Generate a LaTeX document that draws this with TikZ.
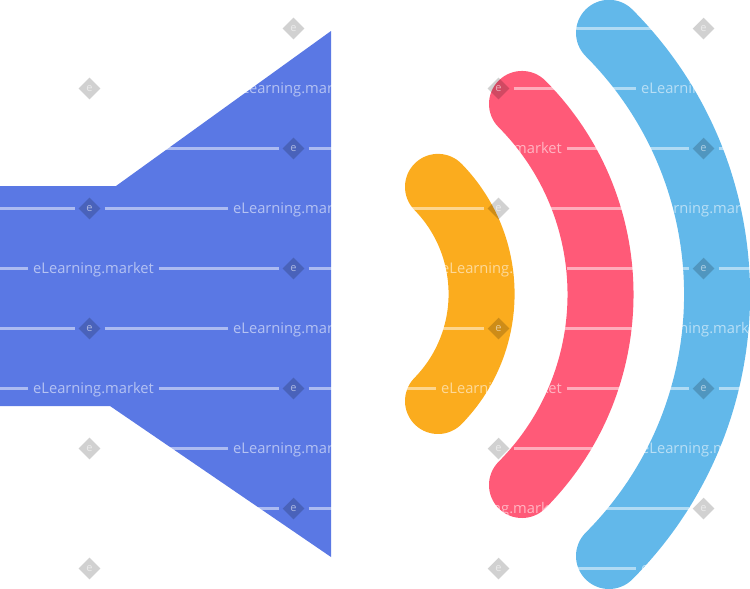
\documentclass[tikz,border=0pt]{standalone}
\usepackage{fontspec}
\setmainfont{Open Sans}
\usetikzlibrary{shapes.geometric,positioning}

\begin{document}
\begin{tikzpicture}[
    x=1pt, y=-1pt,
    wave/.style={line width=66pt, line cap=round},
    stamp/.style={diamond, fill=black, fill opacity=0.18, text=white, text opacity=0.55, minimum size=24pt, inner sep=0pt, outer sep=3pt, font=\fontsize{11}{11}\selectfont},
    wmtext/.style={text=white, text opacity=0.55, inner sep=0pt, outer sep=5pt, yshift=-1pt, font=\fontsize{14.7}{14.7}\selectfont},
    wmline/.style={draw=white, draw opacity=0.5, line width=2.2pt}
]
    \definecolor{hornblue}{HTML}{5A78E4}
    \definecolor{waveyellow}{HTML}{FBAC1E}
    \definecolor{wavered}{HTML}{FF5A78}
    \definecolor{wavesky}{HTML}{62B8EA}
    \useasboundingbox (0,0) rectangle (750,589);

    % Speaker
    \fill[hornblue] (0,186) -- (116,186) -- (331,31) -- (331,557) -- (110,406) -- (0,406) -- cycle;

    % Sound waves
    \draw[wave, waveyellow] (438,401) arc[start angle=-44.3, end angle=44.3, radius=153.3pt];
    \draw[wave, wavered] (522,485) arc[start angle=-44.8, end angle=44.8, radius=270.4pt];
    \draw[wave, wavesky] (609,556) arc[start angle=-44.9, end angle=44.9, radius=370.6pt];

    \begin{scope}[xshift=0.5pt, yshift=-0.5pt]
    % Watermark rows with stamps at 293 and 703
    \foreach \rowy in {28,148,268,388,508} {
        \coordinate (l\rowy) at (-1,\rowy);
        \coordinate (r\rowy) at (749.5,\rowy);
        \node[wmtext] (a\rowy) at (93,\rowy) {eLearning.market};
        \node[stamp] (b\rowy) at (293,\rowy) {e};
        \node[wmtext] (c\rowy) at (501,\rowy) {eLearning.market};
        \node[stamp] (d\rowy) at (703,\rowy) {e};
        \draw[wmline] (l\rowy) -- (a\rowy.west |- l\rowy) (a\rowy.east |- l\rowy) -- (b\rowy) (b\rowy) -- (c\rowy.west |- l\rowy) (c\rowy.east |- l\rowy) -- (d\rowy) (d\rowy) -- (r\rowy);
    }
    % Watermark rows with stamps at 89 and 498
    \foreach \rowy in {88,208,328,448,568} {
        \coordinate (l\rowy) at (-1,\rowy);
        \node[stamp] (a\rowy) at (89,\rowy) {e};
        \node[wmtext] (b\rowy) at (293,\rowy) {eLearning.market};
        \node[stamp] (c\rowy) at (498,\rowy) {e};
        \node[wmtext] (d\rowy) at (701,\rowy) {eLearning.market};
        \draw[wmline] (l\rowy) -- (a\rowy) (a\rowy) -- (b\rowy.west |- l\rowy) (b\rowy.east |- l\rowy) -- (c\rowy) (c\rowy) -- (d\rowy.west |- l\rowy);
    }
    \end{scope}
\end{tikzpicture}
\end{document}
